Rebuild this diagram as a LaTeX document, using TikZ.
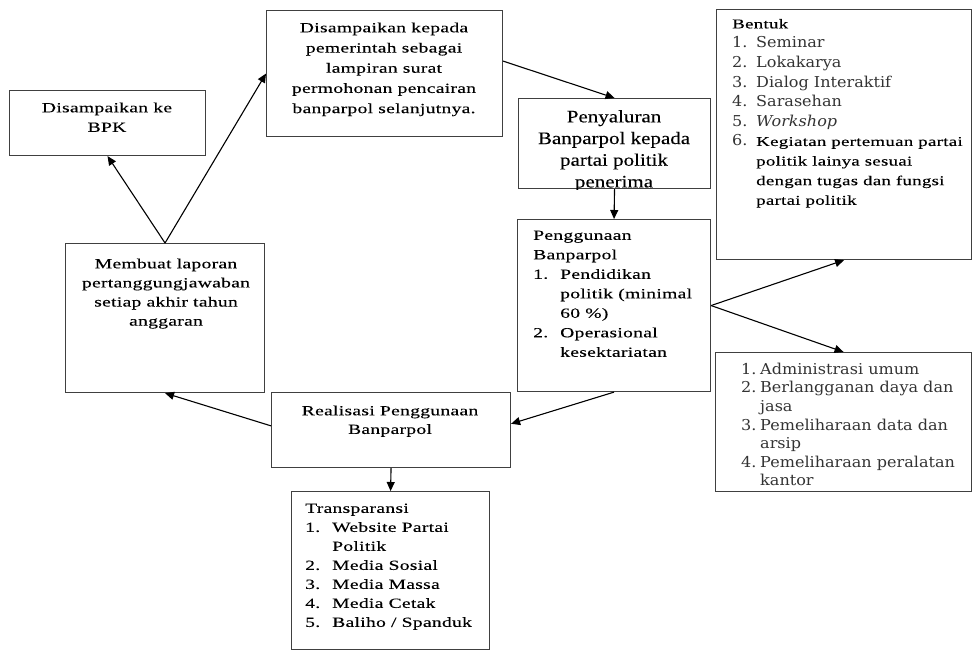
\documentclass[tikz,border=0pt]{standalone}
\usepackage{fontspec}
\setmainfont{Liberation Serif}[FakeStretch=1.4,LetterSpace=2,FakeBold=0.15]
\newfontfamily\lstfont{DejaVu Serif}[FakeStretch=1.07]
\newfontfamily\bigfont{Liberation Serif}[FakeStretch=1.2,FakeBold=0.15]
\usetikzlibrary{arrows.meta}
\newcommand\numitem[3][26pt]{\makebox[#1][l]{#2}#3}
\newcommand\ind[1][26pt]{\hspace*{#1}}
\begin{document}
\begin{tikzpicture}
          [x=1pt,y=-1pt,
          font=\fontsize{14}{19.5}\selectfont,
          box/.style={draw=black!75,line width=1.1pt,inner sep=0pt,anchor=north west},
          txt/.style={inner sep=0pt,align=center,anchor=north},
          lst/.style={inner sep=0pt,align=left,anchor=north west},
          arc/.style={-{Triangle[length=9pt,width=8pt]},line width=1.1pt}]

            \useasboundingbox (0,0) rectangle (973,651);

            % boxes
            \node (bpk) [box,minimum width=196pt,minimum height=65pt] at (9,90) {};
            \node (membuat) [box,minimum width=199pt,minimum height=149pt] at (65,243) {};
            \node (pemerintah) [box,minimum width=236pt,minimum height=126pt] at (266,10) {};
            \node (penyaluran) [box,minimum width=192pt,minimum height=90pt] at (518,98) {};
            \node (bentuk) [box,minimum width=255pt,minimum height=250pt] at (716,9) {};
            \node (penggunaan) [box,minimum width=193pt,minimum height=172pt] at (517,219) {};
            \node (admin) [box,minimum width=256pt,minimum height=139pt] at (715,352) {};
            \node (realisasi) [box,minimum width=239pt,minimum height=75pt] at (271,392) {};
            \node (transparansi) [box,minimum width=198pt,minimum height=158pt] at (291,491) {};

            % texts
            \node (t-bpk) [txt] at (107,102.4) {Disampaikan ke\\BPK};
            \node (t-membuat) [txt,font=\fontsize{14}{19.1}\selectfont] at (166,258.4)
              {Membuat laporan\\pertanggungjawaban\\setiap akhir tahun\\anggaran};
            \node (t-pemerintah) [txt,font=\fontsize{14}{20.2}\selectfont] at (384,22.4)
              {Disampaikan kepada\\pemerintah sebagai\\lampiran surat\\permohonan pencairan\\banparpol selanjutnya.};
            \begin{scope}
              \clip (penyaluran.north west) rectangle (penyaluran.south east);
              \node (t-penyaluran) [txt,font=\bigfont\fontsize{17.5}{21.7}\selectfont] at (614,110)
                {Penyaluran\\Banparpol kepada\\partai politik\\penerima};
            \end{scope}
            \node (t-bentuk) [lst,font=\fontsize{13.5}{19.6}\selectfont] at (732,18.8)
              {Bentuk\\
               {\lstfont\fontsize{15}{19.6}\selectfont\color{black!80}\numitem[24pt]{1.}{Seminar}}\\
               {\lstfont\fontsize{15}{19.6}\selectfont\color{black!80}\numitem[24pt]{2.}{Lokakarya}}\\
               {\lstfont\fontsize{15}{19.6}\selectfont\color{black!80}\numitem[24pt]{3.}{Dialog Interaktif}}\\
               {\lstfont\fontsize{15}{19.6}\selectfont\color{black!80}\numitem[24pt]{4.}{Sarasehan}}\\
               {\lstfont\fontsize{15}{19.6}\selectfont\color{black!80}\numitem[24pt]{5.}{\itshape Workshop}}\\
               \numitem[24pt]{{\lstfont\fontsize{15}{19.6}\selectfont\color{black!80}6.}}{Kegiatan pertemuan partai}\\
               \ind[24pt]politik lainya sesuai\\
               \ind[24pt]dengan tugas dan fungsi\\
               \ind[24pt]partai politik};
            \node (t-penggunaan) [lst] at (533,230.4)
              {Penggunaan\\Banparpol\\
               \numitem[27pt]{1.}{Pendidikan}\\
               \ind[27pt]politik (minimal\\
               \ind[27pt]60 \%)\\
               \numitem[27pt]{2.}{Operasional}\\
               \ind[27pt]kesektariatan};
            \node (t-admin) [lst,text=black!80,font=\lstfont\fontsize{15}{18.6}\selectfont] at (741,362.6)
              {\numitem[19pt]{1.}{Administrasi umum}\\
               \numitem[19pt]{2.}{Berlangganan daya dan}\\
               \ind[19pt]jasa\\
               \numitem[19pt]{3.}{Pemeliharaan data dan}\\
               \ind[19pt]arsip\\
               \numitem[19pt]{4.}{Pemeliharaan peralatan}\\
               \ind[19pt]kantor};
            \node (t-realisasi) [txt,font=\fontsize{14}{18.6}\selectfont] at (390,405.4)
              {Realisasi Penggunaan\\Banparpol};
            \node (t-transparansi) [lst,font=\fontsize{14}{19}\selectfont] at (305,503.4)
              {Transparansi\\
               \numitem[27pt]{1.}{Website Partai}\\
               \ind[27pt]Politik\\
               \numitem[27pt]{2.}{Media Sosial}\\
               \numitem[27pt]{3.}{Media Massa}\\
               \numitem[27pt]{4.}{Media Cetak}\\
               \numitem[27pt]{5.}{Baliho / Spanduk}};

            % arrows
            \draw [arc] (membuat.north) to (bpk.south);
            \draw [arc] (membuat.north) to (pemerintah.west);
            \draw [arc] (pemerintah.6) to (penyaluran.north);
            \draw [arc] (penyaluran.south) to (penggunaan.north);
            \draw [arc] (penggunaan.east) to (bentuk.south);
            \draw [arc] (penggunaan.east) to (admin.north);
            \draw [arc] (penggunaan.south) to (realisasi.3);
            \draw [arc] (realisasi.178) to (membuat.south);
            \draw [arc] (realisasi.south) to (transparansi.north);

        \end{tikzpicture}
\end{document}
